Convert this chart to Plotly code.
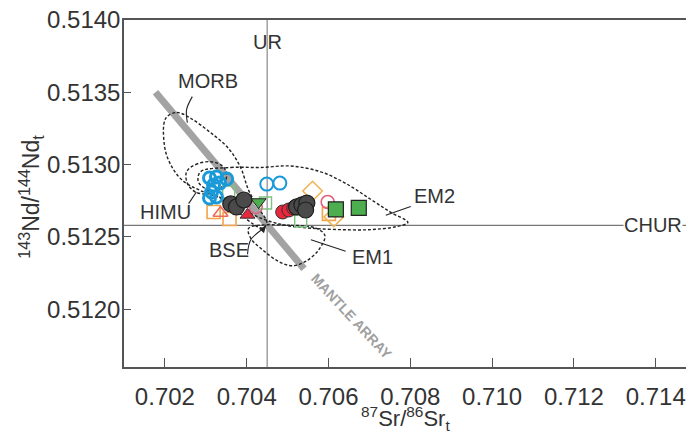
import plotly.graph_objects as go

# Reference values
UR_SR = 0.7045
CHUR_ND = 0.51258

# Mantle array end points
MANTLE_SR = [0.70177, 0.7054]
MANTLE_ND = [0.51350, 0.51228]

# Sample groups (Sr, Nd)
blue_thick_sr = [0.70309, 0.70326, 0.70351, 0.70319, 0.70314, 0.70326, 0.70309, 0.70334]
blue_thick_nd = [0.512907, 0.512914, 0.51290, 0.512859, 0.51281, 0.512776, 0.512769, 0.512872]
blue_thin_sr = [0.70449, 0.70481]
blue_thin_nd = [0.512865, 0.512872]
dark_sr = [0.70361, 0.70375, 0.70393, 0.70522, 0.70535, 0.70547, 0.70544]
dark_nd = [0.512728, 0.512707, 0.512755, 0.512707, 0.512721, 0.512734, 0.512686]
red_circ_sr = [0.70488, 0.70503, 0.70515]
red_circ_nd = [0.512672, 0.512686, 0.51270]
red_tri_sr = [0.70402]
red_tri_nd = [0.512652]
red_tri_open_sr = [0.70336]
red_tri_open_nd = [0.512665]
green_down_sr = [0.70429]
green_down_nd = [0.512741]
green_sq_sr = [0.70618, 0.70674]
green_sq_nd = [0.51269, 0.5127]
orange_sq_sr = [0.70319, 0.70358, 0.70601]
orange_sq_nd = [0.512672, 0.512624, 0.512659]
orange_dia_sr = [0.70561, 0.70613]
orange_dia_nd = [0.512817, 0.512638]
pink_circ_sr = [0.70598, 0.70422]
pink_circ_nd = [0.512741, 0.512707]
green_open_sr = [0.70532, 0.70356, 0.70446]
green_open_nd = [0.51261, 0.51281, 0.512734]

# Field outlines (Sr, Nd)
morb_sr = [0.70202, 0.70229, 0.70263, 0.70312, 0.70356, 0.70385, 0.70405, 0.70429, 0.70449,
           0.70439, 0.70415, 0.70380, 0.70341, 0.70287, 0.70243, 0.70214, 0.70199, 0.70202]
morb_nd = [0.51332, 0.51336, 0.51332, 0.51322, 0.51311, 0.51298, 0.51282, 0.51270, 0.51260,
           0.51256, 0.51259, 0.51267, 0.51276, 0.51282, 0.51289, 0.51300, 0.51313, 0.51332]
himu_sr = [0.70253, 0.70275, 0.70312, 0.70341, 0.70351, 0.70341, 0.70312, 0.70275, 0.70255, 0.70253]
himu_nd = [0.51295, 0.51300, 0.51302, 0.51299, 0.51293, 0.51285, 0.51280, 0.51281, 0.51287, 0.51295]
em2_sr = [0.70287, 0.70361, 0.70434, 0.70508, 0.70581, 0.70642, 0.70703, 0.70752, 0.70794,
          0.70765, 0.70703, 0.70630, 0.70557, 0.70495, 0.70434, 0.70373, 0.70312, 0.70282, 0.70287]
em2_nd = [0.51295, 0.51298, 0.51298, 0.51299, 0.51295, 0.51287, 0.51276, 0.51267, 0.51260,
          0.51257, 0.51255, 0.51255, 0.51256, 0.51258, 0.51263, 0.51272, 0.51281, 0.51288, 0.51295]
em1_sr = [0.70405, 0.70508, 0.70569, 0.70591, 0.70576, 0.70544, 0.70512, 0.70478, 0.70439, 0.70410, 0.70405]
em1_nd = [0.51256, 0.51258, 0.51256, 0.51251, 0.51241, 0.51233, 0.51230, 0.51233, 0.51241, 0.51249, 0.51256]

# Leader lines from labels
leaders = {
    "MORB": ([0.70267, 0.70253, 0.70255], [0.51347, 0.51338, 0.51329]),
    "HIMU": ([0.70258, 0.70277], [0.51273, 0.51281]),
    "BSE": ([0.70402, 0.70410, 0.70442], [0.51238, 0.51248, 0.51256]),
    "EM1": ([0.70557, 0.70642], [0.51248, 0.51240]),
    "EM2": ([0.70740, 0.70801], [0.51265, 0.51271]),
}

X_TICKS = [0.702, 0.704, 0.706, 0.708, 0.710, 0.712, 0.714]
Y_TICKS = [0.5120, 0.5125, 0.5130, 0.5135, 0.5140]

FONT = "Liberation Sans, Arial, sans-serif"
TXT = "#333333"

fig = go.Figure()

# reference lines
fig.add_trace(go.Scatter(x=[UR_SR, UR_SR], y=[0.5116, 0.5140], mode="lines",
                         line=dict(color="#8a8a8a", width=1.2), hoverinfo="skip"))
fig.add_trace(go.Scatter(x=[0.701, 0.71474], y=[CHUR_ND, CHUR_ND], mode="lines",
                         line=dict(color="#777777", width=1.2), hoverinfo="skip"))

# mantle array
fig.add_trace(go.Scatter(x=MANTLE_SR, y=MANTLE_ND, mode="lines",
                         line=dict(color="#a3a3a3", width=7), hoverinfo="skip"))

# field outlines
for sx, sy in [(morb_sr, morb_nd), (himu_sr, himu_nd), (em2_sr, em2_nd), (em1_sr, em1_nd)]:
    fig.add_trace(go.Scatter(x=sx, y=sy, mode="lines",
                             line=dict(color="#222222", width=1.4, dash="3px,2px", shape="spline", smoothing=1.0),
                             hoverinfo="skip"))

# leader lines
for name, (lx, ly) in leaders.items():
    fig.add_trace(go.Scatter(x=lx, y=ly, mode="lines",
                             line=dict(color="#222222", width=1.1, shape="spline"), hoverinfo="skip"))


def pts(x, y, symbol, size, fill, edge, lw):
    fig.add_trace(go.Scatter(x=x, y=y, mode="markers",
                             marker=dict(symbol=symbol, size=size, color=fill,
                                         line=dict(color=edge, width=lw))))


pts(orange_sq_sr, orange_sq_nd, "square-open", 13, "#f2a54a", "#f2a54a", 1.6)
pts(green_open_sr, green_open_nd, "square-open", 12, "#7cc47f", "#7cc47f", 1.4)
pts(orange_dia_sr, orange_dia_nd, "diamond-open", 15, "#f0b455", "#f0b455", 1.6)
pts(pink_circ_sr, pink_circ_nd, "circle-open", 13, "#e0607e", "#e0607e", 1.6)
pts(red_tri_open_sr, red_tri_open_nd, "triangle-up-open", 13, "#f06a5a", "#f06a5a", 1.6)
pts(blue_thick_sr, blue_thick_nd, "circle-open", 12, "#1a9ad8", "#1a9ad8", 3)
pts(blue_thin_sr, blue_thin_nd, "circle-open", 13, "#1a9ad8", "#1a9ad8", 2)
pts(red_tri_sr, red_tri_nd, "triangle-up", 13, "#e8283c", "#333333", 1)
pts(green_down_sr, green_down_nd, "triangle-down", 13, "#4cae4f", "#222222", 1)
pts(red_circ_sr, red_circ_nd, "circle", 14, "#e8283c", "#333333", 1)
pts(dark_sr, dark_nd, "circle", 16, "#4a4a4a", "#1e1e1e", 1.2)
pts(green_sq_sr, green_sq_nd, "square", 15, "#4cae4f", "#222222", 1.2)

# BSE arrow head
fig.add_annotation(x=0.70447, y=0.512575, ax=0.70436, ay=0.51254, xref="x", yref="y",
                   axref="x", ayref="y", text="", showarrow=True, arrowhead=2,
                   arrowsize=1.2, arrowwidth=1.1, arrowcolor="#222222")

labels = [
    ("MORB", 0.70306, 0.51358),
    ("HIMU", 0.70202, 0.51267),
    ("BSE", 0.70356, 0.51241),
    ("EM1", 0.70708, 0.51236),
    ("EM2", 0.7086, 0.51278),
    ("UR", 0.7045, 0.51385),
]
for t, lx, ly in labels:
    fig.add_annotation(x=lx, y=ly, text=t, showarrow=False,
                       font=dict(family=FONT, size=20, color=TXT))
fig.add_annotation(x=0.71394, y=CHUR_ND, text="CHUR", showarrow=False, bgcolor="white",
                   borderpad=0, font=dict(family=FONT, size=20, color=TXT))
fig.add_annotation(x=0.70655, y=0.51195, text="<b>MANTLE ARRAY</b>", showarrow=False, textangle=47,
                   font=dict(family=FONT, size=14, color="#a0a0a0"))

# axis titles
fig.add_annotation(x=0.5, y=-0.148, xref="paper", yref="paper", xanchor="center", yanchor="middle",
                   text="<sup>87</sup>Sr/<sup>86</sup>Sr<sub>t</sub>", showarrow=False,
                   font=dict(family=FONT, size=22, color=TXT))
fig.add_annotation(x=-0.166, y=0.49, xref="paper", yref="paper", xanchor="center", yanchor="middle",
                   textangle=-90,
                   text="<sup>143</sup>Nd/<sup>144</sup>Nd<sub>t</sub>", showarrow=False,
                   font=dict(family=FONT, size=23, color=TXT))

axis_common = dict(showgrid=False, zeroline=False, showline=True, linecolor="#555555",
                   linewidth=1.5, ticks="inside", tickcolor="#555555", tickwidth=1.2,
                   tickfont=dict(family=FONT, size=24, color=TXT), ticklabeloverflow="allow")
fig.update_xaxes(range=[0.701, 0.71474], tickvals=X_TICKS, tickformat=".3f", ticklen=9,
                 mirror=True, ticklabelstandoff=7, **axis_common)
fig.update_yaxes(range=[0.5116, 0.5140], tickvals=Y_TICKS, tickformat=".4f", ticklen=7,
                 ticklabelstandoff=-3, **axis_common)

fig.update_layout(width=686, height=437, margin=dict(l=123.5, r=0, t=19.5, b=69.5),
                  plot_bgcolor="white", paper_bgcolor="white", showlegend=False)

fig.write_html("out.html")
